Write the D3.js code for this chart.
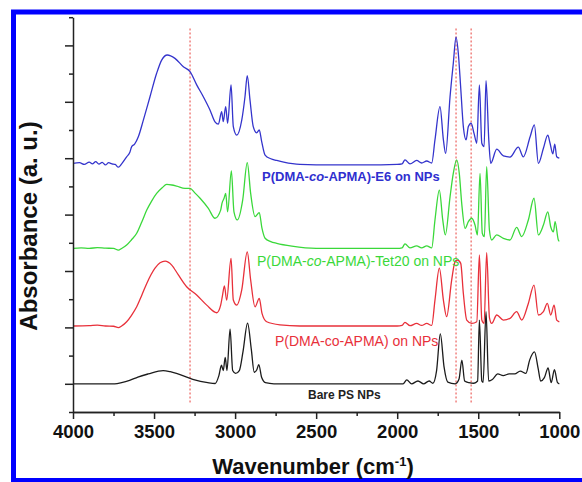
<!DOCTYPE html>
<html>
<head>
<meta charset="utf-8">
<script src="https://cdn.jsdelivr.net/npm/d3@7/dist/d3.min.js"></script>
<style>
  body { margin: 0; background: #fff; }
  svg text { font-family: "Liberation Sans", Arial, sans-serif; }
</style>
</head>
<body>
<svg id="chart" width="582" height="482"></svg>
<script>
// spectra: [wavenumber, absorbance (stacked, a.u.)]
const bareNPs = [
  [4000,1.0],[3743,1.0],[3700,1.04],[3651,1.12],[3600,1.24],[3536,1.35],[3444,1.47],[3400,1.43],
  [3353,1.35],[3261,1.16],[3169,1.04],[3123,1.01],[3100,1.29],[3084,1.66],[3073,1.47],[3061,1.94],
  [3050,1.47],[3031,2.94],[3015,1.47],[2997,1.37],[2974,1.47],[2951,2.15],[2923,3.15],[2900,2.22],
  [2882,1.41],[2866,1.5],[2854,1.68],[2836,1.22],[2813,1.04],[2760,1.0],[1964,1.0],[1941,1.14],
  [1911,1.0],[1872,1.1],[1837,1.0],[1803,1.1],[1780,1.02],[1757,1.47],[1734,2.77],[1711,1.6],
  [1688,1.06],[1642,1.0],[1619,1.16],[1601,1.84],[1584,1.1],[1557,1.04],[1527,1.02],[1504,1.1],
  [1493,3.26],[1478,1.1],[1470,1.05],[1452,3.56],[1436,1.1],[1413,1.15],[1380,1.35],[1346,1.29],
  [1309,1.35],[1275,1.35],[1241,1.45],[1206,1.37],[1183,1.84],[1153,2.13],[1130,1.53],[1115,1.1],
  [1092,1.22],[1069,1.56],[1050,1.04],[1030,1.5],[1011,1.04],[1000,1.0]
];
const copolymer = [
  [4000,3.05],[3900,3.06],[3850,3.08],[3800,3.05],[3750,3.04],[3720,2.99],[3700,3.05],[3669,3.2],
  [3640,3.42],[3607,3.73],[3575,4.15],[3545,4.56],[3494,5.1],[3463,5.29],[3432,5.35],[3391,5.21],
  [3350,4.86],[3299,4.44],[3237,4.15],[3175,3.79],[3113,3.52],[3089,3.79],[3079,4.09],[3066,4.47],
  [3052,3.97],[3025,5.45],[3011,3.97],[2990,3.79],[2959,4.33],[2925,5.68],[2904,4.68],[2877,3.73],
  [2851,4.03],[2834,3.5],[2805,3.2],[2723,3.09],[2600,3.05],[2000,3.05],[1970,3.07],[1952,3.18],
  [1921,3.06],[1880,3.14],[1849,3.07],[1818,3.14],[1787,3.07],[1767,3.97],[1740,5.1],[1715,3.97],
  [1695,3.38],[1664,4.68],[1643,5.33],[1629,5.39],[1608,5.27],[1592,4.21],[1571,3.26],[1540,3.14],
  [1509,3.2],[1493,5.57],[1478,3.26],[1464,3.14],[1448,5.65],[1431,3.35],[1417,3.14],[1386,3.44],
  [1345,3.26],[1304,3.32],[1263,3.56],[1232,3.26],[1191,3.85],[1156,4.5],[1129,3.44],[1098,3.56],
  [1074,3.85],[1053,3.44],[1032,3.79],[1016,3.26],[1000,3.2]
];
const tet20 = [
  [4000,5.8],[3950,5.82],[3900,5.8],[3850,5.83],[3800,5.81],[3750,5.8],[3720,5.74],[3700,5.8],
  [3669,5.92],[3640,6.1],[3607,6.34],[3575,6.75],[3545,7.16],[3515,7.48],[3484,7.75],[3450,7.95],
  [3422,8.07],[3390,8.05],[3360,8.01],[3309,7.93],[3278,7.93],[3250,7.78],[3216,7.58],[3165,7.22],
  [3124,6.87],[3089,7.16],[3081,7.4],[3068,7.58],[3058,7.75],[3046,7.1],[3023,8.55],[3007,7.1],
  [2986,6.81],[2953,7.52],[2925,8.84],[2904,7.75],[2877,6.93],[2851,7.07],[2834,6.51],[2815,6.16],
  [2780,6.04],[2743,5.98],[2650,5.88],[2500,5.8],[2000,5.8],[1970,5.82],[1952,5.96],[1921,5.82],
  [1880,5.89],[1849,5.82],[1818,5.89],[1787,5.82],[1767,6.81],[1740,7.87],[1719,6.81],[1703,6.28],
  [1674,7.63],[1654,8.46],[1633,8.94],[1617,8.46],[1602,7.4],[1581,6.51],[1561,6.75],[1540,6.87],
  [1520,6.63],[1505,6.28],[1489,8.46],[1475,6.34],[1462,6.22],[1448,8.7],[1431,6.45],[1417,6.1],
  [1386,6.28],[1345,6.16],[1304,6.1],[1263,6.55],[1232,6.22],[1191,6.81],[1156,7.58],[1129,6.28],
  [1098,6.63],[1071,7.1],[1053,6.57],[1036,6.39],[1026,6.75],[1006,6.1],[1000,6.05]
];
const e6 = [
  [4000,8.82],[3960,8.84],[3930,8.78],[3900,8.86],[3880,8.8],[3860,8.88],[3840,8.79],[3820,8.85],
  [3800,8.76],[3780,8.84],[3760,8.8],[3740,8.78],[3720,8.68],[3700,8.8],[3669,9.05],[3650,9.2],
  [3638,9.41],[3620,9.5],[3597,9.76],[3566,10.35],[3525,11.18],[3484,12.01],[3453,12.48],[3418,12.66],
  [3371,12.54],[3319,12.24],[3278,12.07],[3237,11.6],[3196,11.18],[3155,10.71],[3124,10.29],[3103,10.21],
  [3083,10.65],[3073,10.3],[3058,10.83],[3046,10.24],[3025,11.6],[3011,10.12],[2990,9.82],[2959,10.35],
  [2939,11.18],[2925,11.93],[2908,11.06],[2888,10.12],[2867,9.9],[2851,10.0],[2836,9.59],[2815,9.11],
  [2780,8.98],[2743,8.92],[2700,8.86],[2600,8.78],[2400,8.76],[2200,8.76],[2000,8.78],[1970,8.8],
  [1952,8.94],[1921,8.8],[1880,8.92],[1849,8.83],[1818,8.9],[1787,8.83],[1767,9.65],[1736,10.83],
  [1715,9.65],[1701,9.17],[1674,11.18],[1654,12.36],[1637,13.29],[1623,12.72],[1608,11.48],[1592,10.12],
  [1575,9.65],[1561,10.12],[1544,10.24],[1526,9.88],[1509,9.53],[1493,11.6],[1478,9.53],[1464,9.41],
  [1452,11.75],[1435,9.65],[1423,8.82],[1386,9.32],[1345,9.08],[1304,9.04],[1253,9.39],[1222,9.05],
  [1180,9.76],[1154,10.18],[1129,8.82],[1098,9.35],[1071,9.82],[1057,9.53],[1040,9.15],[1028,9.5],
  [1016,9.05],[1000,9.0]
];
const markerLines = [3278, 1637, 1544];
const xMajorTicks = [4000, 3500, 3000, 2500, 2000, 1500, 1000];
const xMinorTicks = [3750, 3250, 2750, 2250, 1750, 1250];
const yTicks = d3.range(0, 15);

const svg = d3.select("#chart");
const x = d3.scaleLinear().domain([4000, 1000]).range([73, 559.3]);
const y = d3.scaleLinear().domain([0, 14]).range([412, 17.2]);

// blue frame round the figure
svg.append("rect")
  .attr("x", 13.5).attr("y", 12)
  .attr("width", 620).attr("height", 468.5)
  .attr("fill", "none")
  .attr("stroke", "#0000ff")
  .attr("stroke-width", 5);

// dotted reference lines
svg.append("g").selectAll("line")
  .data(markerLines)
  .join("line")
  .attr("x1", d => x(d)).attr("x2", d => x(d))
  .attr("y1", y(13.6)).attr("y2", y(0.3))
  .attr("stroke", "#e8413c")
  .attr("stroke-width", 1)
  .attr("stroke-dasharray", "2,2");

const line = d3.line()
  .x(d => x(d[0]))
  .y(d => y(d[1]))
  .curve(d3.curveMonotoneX);

const series = [
  { data: bareNPs, color: "#1c1c1c" },
  { data: copolymer, color: "#e8303a" },
  { data: tet20, color: "#3ad83a" },
  { data: e6, color: "#3434cc" }
];

svg.append("g").selectAll("path")
  .data(series)
  .join("path")
  .attr("d", d => line(d.data))
  .attr("fill", "none")
  .attr("stroke", d => d.color)
  .attr("stroke-width", 1.3)
  .attr("stroke-linejoin", "round");

// axes
const axisStyle = (g) => {
  g.selectAll(".domain").attr("stroke", "#222").attr("stroke-width", 1.5);
  g.selectAll(".tick line").attr("stroke", "#222").attr("stroke-width", 1.5);
};

svg.append("g")
  .attr("transform", `translate(0, ${y(0)})`)
  .call(d3.axisBottom(x).tickValues(xMinorTicks).tickSize(4).tickSizeOuter(0).tickFormat(""))
  .call(axisStyle);

svg.append("g")
  .attr("transform", `translate(0, ${y(0)})`)
  .call(d3.axisBottom(x).tickValues(xMajorTicks).tickSize(7).tickSizeOuter(0)
    .tickPadding(6).tickFormat(d3.format("d")))
  .call(axisStyle)
  .call((g) => {
    g.selectAll(".tick text")
      .attr("fill", "#111")
      .attr("font-size", "18.5px")
      .attr("font-weight", "bold");
  });

svg.append("g")
  .attr("transform", `translate(${x(4000)}, 0)`)
  .call(d3.axisLeft(y).tickValues(yTicks).tickSizeOuter(0).tickFormat(""))
  .call(axisStyle)
  .call((g) => {
    g.selectAll(".tick line").attr("x2", d => (d % 2 === 1 ? -8 : -4));
  });

// axis titles
const xTitle = svg.append("text")
  .attr("x", 313).attr("y", 474)
  .attr("text-anchor", "middle")
  .attr("font-size", "22px")
  .attr("font-weight", "bold")
  .attr("fill", "#111");
xTitle.append("tspan").text("Wavenumber (cm");
xTitle.append("tspan").attr("font-size", "13px").attr("dy", -8).text("-1");
xTitle.append("tspan").attr("dy", 8).text(")");

svg.append("text")
  .attr("transform", "translate(37, 226) rotate(-90)")
  .attr("text-anchor", "middle")
  .attr("font-size", "24px")
  .attr("font-weight", "bold")
  .attr("fill", "#111")
  .text("Absorbance (a. u.)");

// series labels
function label(xPos, yPos, color, bold, size, parts) {
  const t = svg.append("text")
    .attr("x", xPos).attr("y", yPos)
    .attr("fill", color)
    .attr("font-size", size)
    .attr("font-weight", bold ? "bold" : "normal");
  parts.forEach(p => {
    t.append("tspan").attr("font-style", p[1] ? "italic" : "normal").text(p[0]);
  });
}
label(262, 181, "#2f2fcf", true, "13px", [["P(DMA-", 0], ["co", 1], ["-APMA)-E6 on NPs", 0]]);
label(257, 266, "#3ad83a", false, "14px", [["P(DMA-", 0], ["co", 1], ["-APMA)-Tet20 on NPs", 0]]);
label(275, 346, "#e8303a", false, "14px", [["P(DMA-co-APMA) on NPs", 0]]);
label(308, 399, "#222", true, "12px", [["Bare PS NPs", 0]]);
</script>
</body>
</html>
